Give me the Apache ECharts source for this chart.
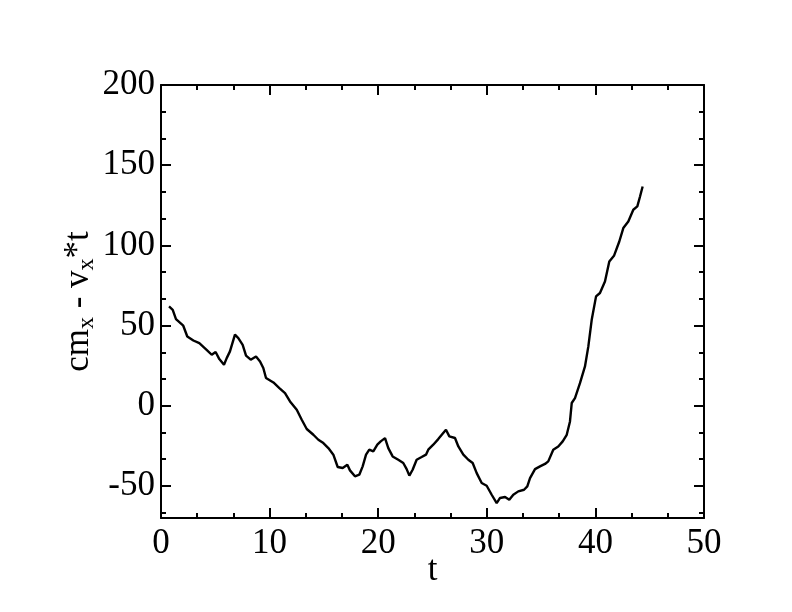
<!DOCTYPE html>
<html><head><meta charset="utf-8">
<script src="https://cdn.jsdelivr.net/npm/echarts@6/dist/echarts.min.js"></script>
<style>html,body{margin:0;padding:0;background:#fff}#c{width:792px;height:612px}</style>
</head><body><div id="c"></div>
<script>
const tValues = [0.74,1.08,1.38,2.05,2.42,2.98,3.53,4.2,4.67,5.03,5.37,5.8,6.05,6.35,6.81,7.12,7.52,7.83,8.26,8.75,9.12,9.42,9.67,10.35,10.9,11.42,11.88,12.5,12.96,13.42,14.03,14.49,14.95,15.41,15.87,16.27,16.73,17.16,17.4,17.86,18.26,18.57,18.88,19.18,19.55,19.92,20.23,20.63,20.93,21.33,21.85,22.31,22.62,22.87,23.17,23.54,24.0,24.4,24.61,25.07,25.53,25.93,26.24,26.55,27.07,27.38,27.84,28.3,28.7,29.07,29.53,29.99,30.45,30.91,31.22,31.68,32.07,32.44,32.9,33.43,33.73,33.98,34.44,34.9,35.36,35.66,36.12,36.58,36.99,37.36,37.66,37.82,38.12,38.58,39.04,39.35,39.66,40.06,40.42,40.88,41.28,41.71,42.2,42.57,43.03,43.49,43.86,44.11,44.35];
const cmValues = [61.9,59.8,54,49.9,43.2,40.7,39,34.9,31.8,33.5,29.1,25.6,29.7,33.9,44.3,42.2,38,31.2,28.7,30.7,27.6,23.5,17.3,14.5,11,7.9,2.7,-2.5,-8.7,-14.5,-18.1,-21.2,-23.3,-26.4,-30.5,-38.2,-38.8,-36.8,-40.3,-44,-43,-37.8,-30.5,-27.4,-28.5,-24.3,-22.2,-20.2,-26.4,-31.6,-33.7,-35.7,-39.5,-43.6,-39.9,-33.7,-32,-30.5,-27.4,-24.3,-20.8,-17.5,-15,-19.1,-20.1,-25.4,-30.5,-33.7,-35.7,-42,-48.2,-49.9,-55.5,-60.7,-57.5,-56.9,-58.6,-55.5,-53.4,-52.4,-50.3,-45.1,-39.5,-37.8,-36.3,-34.7,-27.4,-25.4,-22.2,-18.1,-9.8,1.7,4.8,14.1,24.5,37,53.6,68.2,70.3,77.5,90,93.5,102.4,110.8,114.9,122.2,124.3,130.5,136.7];
const yMajorTicks = [-50,0,50,100,150,200];
const yMinorTicks = [-66.667,-33.333,-16.667,16.667,33.333,66.667,83.333,116.667,133.333,166.667,183.333];
const xMin = 0, xMax = 50, yMin = -70, yMax = 200;

const font = 'Liberation Serif';
const axisLine = {show:true, onZero:false, lineStyle:{color:'#000', width:2}};
const noLine = {show:false, onZero:false};
const chart = echarts.init(document.getElementById('c'));
const baseY = {type:'value', min:yMin, max:yMax, splitLine:{show:false}};
chart.setOption({
  animation:false,
  backgroundColor:'#fff',
  grid:{left:161, right:88, top:85, bottom:94, containLabel:false},
  xAxis:[
    {type:'value', min:xMin, max:xMax, interval:10, position:'bottom',
     axisLine:axisLine, splitLine:{show:false},
     axisTick:{inside:true, length:10, lineStyle:{color:'#000', width:2}},
     minorTick:{show:true, splitNumber:3, length:5, lineStyle:{color:'#000', width:2}},
     axisLabel:{color:'#000', fontFamily:font, fontSize:35, margin:8},
     name:'t', nameLocation:'middle', nameGap:35, nameMoveOverlap:false,
     nameTextStyle:{color:'#000', fontFamily:font, fontSize:35}},
    {type:'value', min:xMin, max:xMax, interval:10, position:'top',
     axisLine:axisLine, splitLine:{show:false},
     axisTick:{inside:true, length:10, lineStyle:{color:'#000', width:2}},
     minorTick:{show:true, splitNumber:3, length:5, lineStyle:{color:'#000', width:2}},
     axisLabel:{show:false}}
  ],
  yAxis:[
    Object.assign({}, baseY, {position:'left',
     axisLine:axisLine,
     axisTick:{inside:true, length:10, customValues:yMajorTicks, lineStyle:{color:'#000', width:2}},
     axisLabel:{color:'#000', fontFamily:font, fontSize:35, margin:6, customValues:yMajorTicks},
     name:'{n|cm}{s|x}{n| - v}{s|x}{n|*t}', nameLocation:'middle', nameGap:62, nameRotate:90, nameMoveOverlap:false,
     nameTextStyle:{color:'#000', fontFamily:font, fontSize:35,
       rich:{n:{fontFamily:font, fontSize:35, color:'#000', verticalAlign:'top', lineHeight:38},
             s:{fontFamily:font, fontSize:24, color:'#000', verticalAlign:'bottom', lineHeight:26, padding:[16,0,0,0]}}}}),
    Object.assign({}, baseY, {position:'left',
     axisLine:noLine,
     axisTick:{inside:true, length:5, customValues:yMinorTicks, lineStyle:{color:'#000', width:2}},
     axisLabel:{show:false}}),
    Object.assign({}, baseY, {position:'right',
     axisLine:axisLine,
     axisTick:{inside:true, length:10, customValues:yMajorTicks, lineStyle:{color:'#000', width:2}},
     axisLabel:{show:false}}),
    Object.assign({}, baseY, {position:'right',
     axisLine:noLine,
     axisTick:{inside:true, length:5, customValues:yMinorTicks, lineStyle:{color:'#000', width:2}},
     axisLabel:{show:false}})
  ],
  series:[{
    type:'line', xAxisIndex:0, yAxisIndex:0, showSymbol:false, symbol:'none',
    data:tValues.map((t,i)=>[t, cmValues[i]]),
    lineStyle:{color:'#000', width:2.4}
  }]
});
</script></body></html>
